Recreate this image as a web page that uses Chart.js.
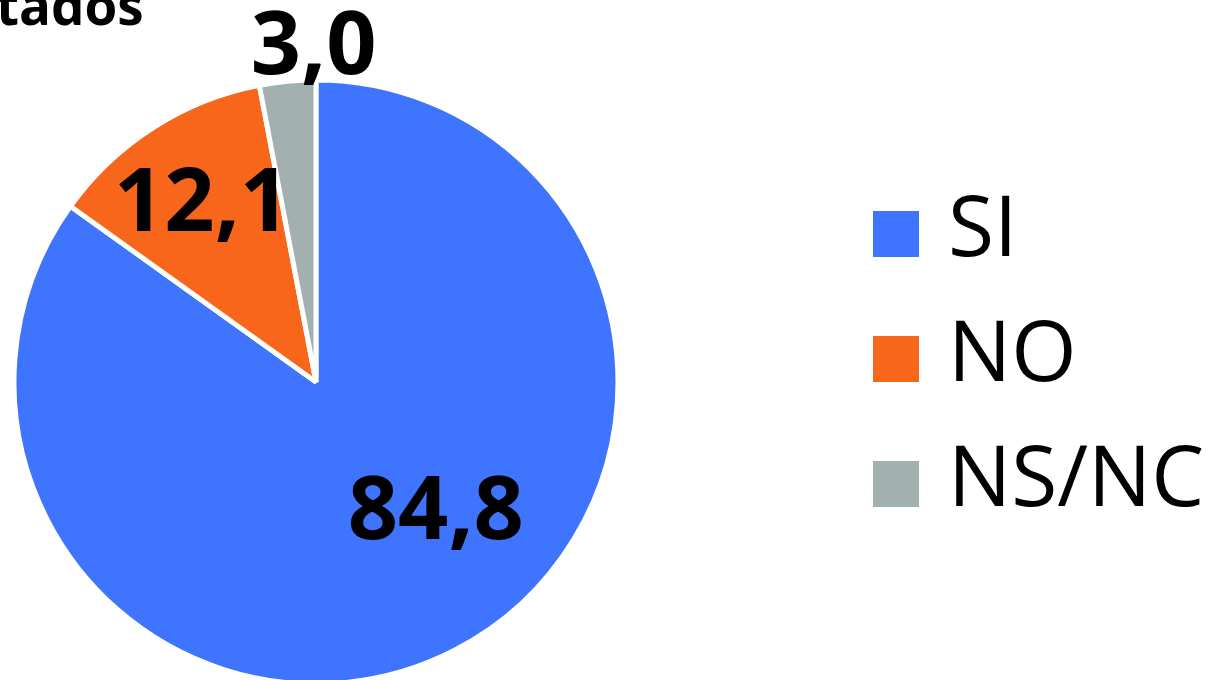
<!DOCTYPE html>
<html>
<head>
<meta charset="utf-8">
<script src="https://cdn.jsdelivr.net/npm/chart.js@4.4.1/dist/chart.umd.min.js"></script>
<style>
html, body { margin: 0; padding: 0; background: #fff; overflow: hidden; }
#wrap { width: 1228px; height: 680px; position: relative; }
</style>
</head>
<body>
<div id="wrap"><canvas id="myChart"></canvas></div>
<script>
const legendas = ['SI', 'NO', 'NS/NC'];
const valores = [84.8, 12.1, 3.0];
const cores = ['#3f74fe', '#f8661c', '#a2b1b0'];
const titulo = 'tados';

// ajuste de posição de cada rótulo: desvio de ângulo (graus) e fração do raio
const posRotulo = [
    {ang: -15.5, r: 0.585},
    {ang: 0, r: 0.70},
    {ang: 5, r: 1.11}
];

const rotulos = {
    id: 'rotulos',
    afterDatasetsDraw(chart) {
        const ctx = chart.ctx;
        const meta = chart.getDatasetMeta(0);
        ctx.save();
        ctx.fillStyle = '#000';
        ctx.font = 'bold 88px "Open Sans"';
        ctx.textAlign = 'center';
        ctx.textBaseline = 'middle';
        meta.data.forEach((arc, i) => {
            const p = arc.getProps(['x', 'y', 'startAngle', 'endAngle', 'outerRadius'], true);
            const a = (p.startAngle + p.endAngle) / 2 + posRotulo[i].ang * Math.PI / 180;
            const d = p.outerRadius * posRotulo[i].r;
            const txt = valores[i].toFixed(1).replace('.', ',');
            ctx.fillText(txt, p.x + Math.cos(a) * d, p.y + Math.sin(a) * d + 2);
        });
        ctx.restore();
    }
};

const legenda = {
    id: 'legenda',
    afterDraw(chart) {
        const ctx = chart.ctx;
        ctx.save();
        ctx.font = '84px "Open Sans"';
        ctx.textBaseline = 'middle';
        ctx.textAlign = 'left';
        chart.data.labels.forEach((lab, i) => {
            const y = 211 + i * 125;
            ctx.fillStyle = chart.data.datasets[0].backgroundColor[i];
            ctx.fillRect(873, y, 46, 46);
            ctx.fillStyle = '#000';
            ctx.fillText(lab, 948, y + 21);
        });
        ctx.restore();
    }
};

const tituloCortado = {
    id: 'tituloCortado',
    afterDraw(chart) {
        const ctx = chart.ctx;
        ctx.save();
        ctx.fillStyle = '#000';
        ctx.font = 'bold 53px "Open Sans"';
        ctx.textAlign = 'left';
        ctx.textBaseline = 'alphabetic';
        ctx.fillText(titulo, -4, 25);
        ctx.restore();
    }
};

new Chart('myChart', {
    type: 'pie',
    data: {
        labels: legendas,
        datasets: [{
            data: valores,
            backgroundColor: cores,
            borderColor: '#fff',
            borderWidth: 5,
            clip: false
        }]
    },
    options: {
        responsive: true,
        maintainAspectRatio: false,
        animation: false,
        radius: 302,
        layout: {
            padding: {left: 0, right: 596, top: 84, bottom: 0}
        },
        plugins: {
            legend: {display: false},
            tooltip: {enabled: false},
            title: {display: false}
        }
    },
    plugins: [rotulos, legenda, tituloCortado]
});
</script>
</body>
</html>
